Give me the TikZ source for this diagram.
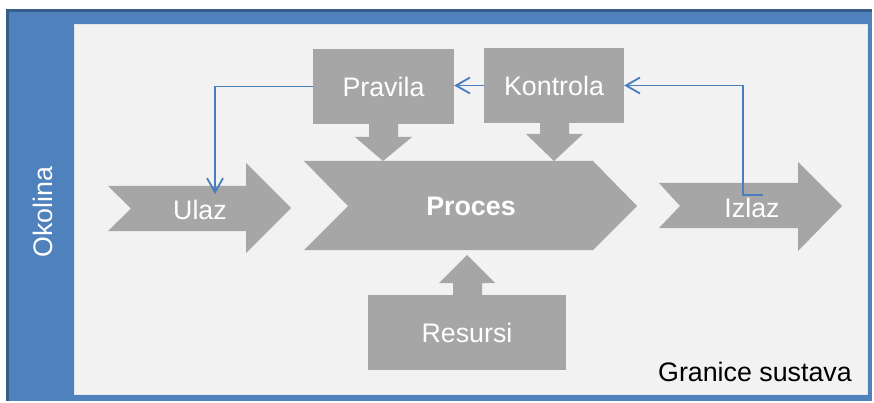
\documentclass[tikz,border=0pt]{standalone}
\usepackage{fontspec}
\setmainfont{Liberation Sans}
\usetikzlibrary{arrows.meta}
\definecolor{frameblue}{HTML}{4F81BD}
\definecolor{framedark}{HTML}{385D8A}
\definecolor{panelgray}{HTML}{F2F2F2}
\definecolor{shapegray}{HTML}{A6A6A6}
\definecolor{connblue}{HTML}{4A7EBB}
\begin{document}
\begin{tikzpicture}[x=1pt,y=-1pt,
  txt/.style={font=\fontsize{26.8}{31}\selectfont, text=white, inner sep=0pt},
  box/.style={fill=shapegray, draw=none, txt},
  blockarrow/.style={fill=shapegray, draw=none},
  conn/.style={draw=connblue, line width=1.8pt, -{Straight Barb[length=14pt,width=16pt]}}]
\useasboundingbox (0,0) rectangle (874,403);
% frame
\fill[frameblue] (6,9) rectangle (872,401);
\draw[framedark, line width=3pt] (7.5,401) -- (7.5,10.5) -- (872,10.5);
\fill[panelgray, draw=white!80!gray, line width=0.8pt] (74,24) rectangle (867,394);
% boxes
\node[box, minimum width=141pt, minimum height=75pt] (pravila) at (383.5,86.5) {Pravila};
\node[box, minimum width=140pt, minimum height=75pt] (kontrola) at (554,85.5) {Kontrola};
\node[box, minimum width=198pt, minimum height=75pt] (resursi) at (467,332.5) {Resursi};
% small block arrows
\fill[blockarrow] (369,123) -- (398,123) -- (398,137) -- (412,137) -- (383,161) -- (355,137) -- (369,137) -- cycle;
\fill[blockarrow] (540,122) -- (569,122) -- (569,134) -- (583,134) -- (554,161) -- (526,134) -- (540,134) -- cycle;
\fill[blockarrow] (453,296) -- (453,283) -- (439,283) -- (467,255) -- (495,283) -- (482,283) -- (482,296) -- cycle;
% big arrows
\fill[blockarrow] (108,186) -- (246,186) -- (246,163) -- (291,208) -- (246,253) -- (246,231) -- (108,231) -- (131,208.5) -- cycle;
\fill[blockarrow] (304,161) -- (593,161) -- (637,206) -- (593,250) -- (304,250) -- (348,206) -- cycle;
\fill[blockarrow] (659,183) -- (798,183) -- (798,162) -- (842,206) -- (798,251) -- (798,228) -- (659,228) -- (680,206) -- cycle;
\node[txt] (ulaz) at (200,210) {Ulaz};
\node[txt, font=\fontsize{26.8}{31}\selectfont\bfseries] (proces) at (471,206) {Proces};
\node[txt] (izlaz) at (752,208) {Izlaz};
% labels
\node[txt, rotate=90] (okolina) at (43,212) {Okolina};
\node[txt, text=black, anchor=base east] (granice) at (852,381) {Granice sustava};
% connectors
\coordinate (ulazin) at (215,194);
\coordinate (izlazout) at (763,195);
\coordinate (bend) at (743,195);
\draw[conn] (pravila.west) -| (ulazin);
\draw[conn] (kontrola.west) -- (pravila.east |- kontrola.west);
\draw[conn] (izlazout) -- (bend) |- (kontrola.east);
\end{tikzpicture}
\end{document}
